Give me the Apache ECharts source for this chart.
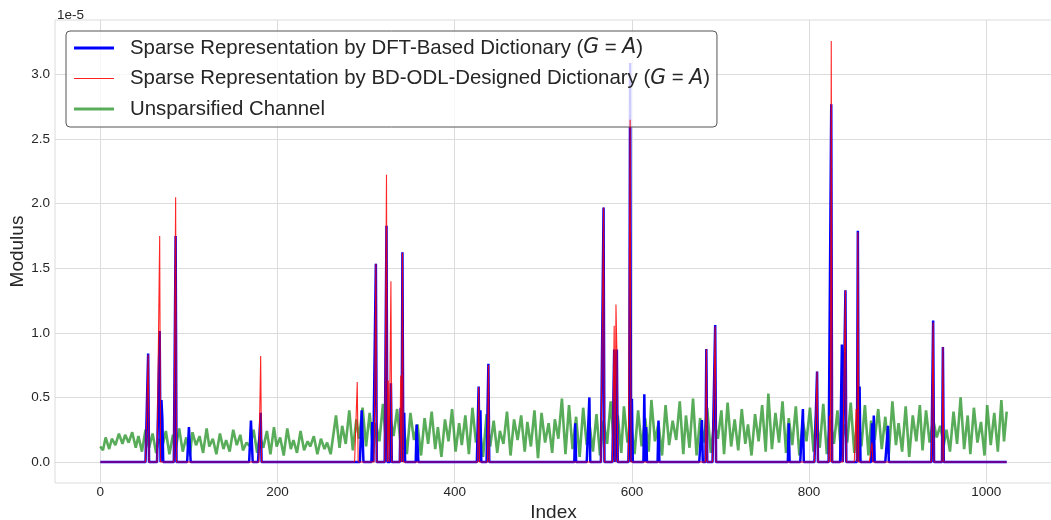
<!DOCTYPE html>
<html><head><meta charset="utf-8">
<script src="https://cdn.jsdelivr.net/npm/echarts@6/dist/echarts.min.js"></script>
<style>html,body{margin:0;padding:0;background:#fff}#chart{width:1051px;height:520px}</style>
</head><body><div id="chart"></div>
<script>
// Number of channel taps (indices 0..1023)
const tapCount = 1024;
const xTicks = [0, 200, 400, 600, 800, 1000];
const yTicks = [0, 0.5, 1.0, 1.5, 2.0, 2.5, 3.0];

// Non-zero taps of the DFT-based sparse representation (units of 1e-5)
const dftIndex   = [54, 67, 69, 70, 85, 100, 101, 170, 171, 181, 295, 296, 307, 311, 323, 328, 339, 341, 343, 357, 358, 427, 429, 438, 536, 552, 568, 580, 583, 597, 598, 600, 614, 616, 630, 679, 684, 694, 777, 793, 809, 825, 837, 841, 855, 857, 871, 873, 889, 940, 951];
const dftModulus = [0.84, 1.015, 0.48, 0.34, 1.75, 0.27, 0.27, 0.32, 0.32, 0.38, 0.40, 0.40, 0.31, 1.535, 1.83, 0.61, 0.42, 1.625, 0.38, 0.29, 0.29, 0.585, 0.40, 0.76, 0.30, 0.50, 1.97, 0.87, 0.87, 0.27, 3.09, 0.49, 0.525, 0.27, 0.32, 0.325, 0.875, 1.06, 0.30, 0.41, 0.70, 2.77, 0.91, 1.33, 1.79, 0.585, 0.30, 0.36, 0.28, 1.095, 0.89];

// Non-zero taps of the BD-ODL-designed sparse representation (units of 1e-5)
const odlIndex   = [54, 67, 85, 181, 290, 311, 323, 325, 328, 339, 341, 427, 438, 568, 580, 582, 583, 598, 684, 694, 809, 823, 825, 841, 853, 855, 871, 940, 951];
const odlModulus = [0.83, 1.75, 2.05, 0.82, 0.62, 1.535, 2.225, 0.63, 1.40, 0.67, 1.62, 0.58, 0.75, 1.97, 1.055, 1.22, 0.87, 2.65, 0.875, 1.05, 0.70, 0.36, 3.26, 1.33, 0.41, 1.78, 0.15, 1.08, 0.89];

// Unsparsified channel: turning points of the modulus trace (units of 1e-5)
const channelIndex = [
  0,3,6,10,13,17,21,25,28,32,36,40,43,47,51,55,59,63,66,70,74,78,82,85,89,93,97,101,104,108,112,116,120,123,127,131,135,139,142,146,150,154,158,161,165,169,173,177,180,184,188,192,196,199,203,207,211,215,218,222,226,230,234,237,241,245,249,253,256,260,
  266,270,273,277,281,285,289,292,296,300,304,308,311,315,319,323,327,331,335,339,342,346,350,354,358,362,366,370,374,378,381,385,389,393,397,401,405,408,412,416,420,424,428,432,436,440,444,448,451,455,459,463,467,471,475,479,482,486,490,494,498,502,506,510,513,517,521,525,529,533,537,541,545,549,552,556,560,564,568,572,576,580,584,588,591,595,599,603,607,611,615,619,622,626,630,634,638,642,646,650,654,658,661,665,669,673,677,681,685,689,693,697,701,704,708,712,716,720,724,728,731,735,739,743,747,751,754,758,762,766,770,774,777,781,785,789,793,797,801,805,808,812,816,820,824,828,832,836,839,843,847,851,855,859,863,867,870,874,878,882,886,890,894,898,901,905,909,913,917,921,925,928,932,936,940,944,948,952,955,959,963,967,971,975,979,982,986,990,994,998,1001,1005,1009,1013,1017,1020,1023
];
const channelModulus = [
  0.12,0.09,0.19,0.10,0.18,0.13,0.22,0.14,0.21,0.15,0.23,0.11,0.20,0.08,0.25,0.11,0.22,0.07,0.18,0.12,0.24,0.06,0.21,0.10,0.26,0.08,0.19,0.05,0.23,0.13,0.20,0.07,0.26,0.12,0.18,0.06,0.22,0.10,0.17,0.08,0.25,0.13,0.21,0.09,0.15,0.12,0.25,0.07,0.20,0.11,0.24,0.06,0.27,0.12,0.19,0.05,0.26,0.10,0.17,0.07,0.24,0.09,0.16,0.12,0.20,0.06,0.18,0.10,0.15,0.06,
  0.36,0.11,0.28,0.14,0.40,0.09,0.33,0.18,0.42,0.12,0.38,0.07,0.30,0.16,0.45,0.10,0.35,0.20,0.41,0.13,0.31,0.06,0.38,0.17,0.29,0.05,0.34,0.14,0.39,0.10,0.27,0.04,0.33,0.16,0.41,0.08,0.30,0.13,0.36,0.06,0.42,0.15,0.28,0.04,0.37,0.12,0.32,0.07,0.24,0.14,0.39,0.05,0.33,0.17,0.36,0.08,0.31,0.12,0.40,0.03,0.38,0.15,0.30,0.07,0.33,0.18,0.49,0.06,0.44,0.10,0.35,0.04,0.42,0.13,0.30,0.08,0.37,0.05,0.32,0.14,0.47,0.11,0.36,0.07,0.43,0.15,0.29,0.06,0.40,0.12,0.34,0.08,0.48,0.16,0.30,0.05,0.44,0.13,0.32,0.17,0.47,0.06,0.36,0.11,0.49,0.05,0.34,0.15,0.42,0.07,0.31,0.18,0.40,0.06,0.46,0.12,0.33,0.09,0.41,0.14,0.29,0.05,0.37,0.16,0.44,0.08,0.53,0.10,0.38,0.15,0.47,0.07,0.34,0.13,0.43,0.05,0.31,0.16,0.42,0.08,0.36,0.11,0.45,0.06,0.33,0.14,0.40,0.09,0.29,0.15,0.46,0.07,0.37,0.12,0.44,0.05,0.32,0.17,0.41,0.10,0.35,0.06,0.47,0.13,0.30,0.08,0.43,0.04,0.36,0.16,0.44,0.09,0.40,0.15,0.33,0.19,0.28,0.13,0.25,0.08,0.39,0.14,0.50,0.10,0.36,0.06,0.42,0.15,0.31,0.05,0.44,0.13,0.38,0.08,0.48,0.16,0.39
];

const seriesNames = [
  'Sparse Representation by DFT-Based Dictionary (G = A)',
  'Sparse Representation by BD-ODL-Designed Dictionary (G = A)',
  'Unsparsified Channel'
];

// Expand a list of non-zero taps into a full tap sequence
function fullTaps(idx, val) {
  const out = new Array(tapCount).fill(0);
  idx.forEach((k, i) => { out[k] = val[i]; });
  return out.map((v, i) => [i, v]);
}

const channelData = channelIndex.map((k, i) => [k, channelModulus[i]]);

const xPad = (tapCount - 1) * 0.05;
const yTop = 3.26, yPad = yTop * 0.05;

const blue = '#0000ff', red = 'rgba(255,0,0,0.85)', green = 'rgba(0,128,0,0.65)';
const labelColor = '#262626';
const gridColor = '#dcdcdc';
const sansFont = 'Liberation Sans, Arial, sans-serif';

// Legend swatch: a flat bar of the series colour
function swatch(name, thickness, color) {
  return {
    name: name,
    icon: 'path://M0,0H40V' + thickness + 'H0Z',
    itemStyle: { color: color, borderWidth: 0, opacity: 1 },
    lineStyle: { width: 0 }
  };
}

const chart = echarts.init(document.getElementById('chart'), null, { renderer: 'canvas' });

chart.setOption({
  animation: false,
  backgroundColor: '#ffffff',
  textStyle: { fontFamily: sansFont },
  grid: { left: 55, top: 20, right: -1, bottom: 37, show: true, borderColor: gridColor, borderWidth: 1, containLabel: false, outerBoundsMode: 'none' },
  graphic: [{
    type: 'text', left: 57, top: 8,
    style: { text: '1e-5', fontSize: 13.5, fill: labelColor, fontFamily: sansFont }
  }],
  legend: {
    data: [
      swatch(seriesNames[0], 3, '#0000ff'),
      swatch(seriesNames[1], 1.2, '#ff2020'),
      swatch(seriesNames[2], 3, 'rgba(0,128,0,0.65)')
    ],
    orient: 'vertical',
    left: 66, top: 31,
    padding: [6, 7, 7, 8],
    itemWidth: 40, itemHeight: 14, itemGap: 8.5,
    symbolKeepAspect: true,
    backgroundColor: 'rgba(255,255,255,0.8)',
    borderColor: '#555555', borderWidth: 1, borderRadius: 4,
    selectedMode: false,
    textStyle: {
      fontSize: 20.4, color: labelColor, lineHeight: 22, padding: [0, 0, 0, 11],
      fontFamily: sansFont,
      rich: {
        i: { fontSize: 20.4, fontStyle: 'italic', fontFamily: 'DejaVu Sans', color: labelColor, lineHeight: 22 }
      }
    },
    formatter: name => name.replace('(G = A)', '({i|G} = {i|A})')
  },
  xAxis: {
    type: 'value', min: -xPad, max: tapCount - 1 + xPad,
    name: 'Index', nameLocation: 'middle', nameGap: 20, nameMoveOverlap: false,
    nameTextStyle: { fontSize: 19, color: labelColor },
    axisLine: { show: false }, axisTick: { show: false, customValues: xTicks },
    axisLabel: { customValues: xTicks, fontSize: 13.5, color: labelColor, margin: 2, formatter: v => String(v) },
    splitLine: { show: true, lineStyle: { color: gridColor, width: 1 } }
  },
  yAxis: {
    type: 'value', min: -yPad, max: yTop + yPad,
    name: 'Modulus', nameLocation: 'middle', nameGap: 28, nameRotate: 90, nameMoveOverlap: false,
    nameTextStyle: { fontSize: 19, color: labelColor },
    axisLine: { show: false }, axisTick: { show: false, customValues: yTicks },
    axisLabel: { customValues: yTicks, fontSize: 13.5, color: labelColor, margin: 5, formatter: v => v.toFixed(1) },
    splitLine: { show: true, lineStyle: { color: gridColor, width: 1 } }
  },
  series: [
    {
      name: seriesNames[0], type: 'line', data: fullTaps(dftIndex, dftModulus),
      symbol: 'none', color: blue, z: 3,
      lineStyle: { color: blue, width: 2.5 }
    },
    {
      name: seriesNames[1], type: 'line', data: fullTaps(odlIndex, odlModulus),
      symbol: 'none', color: red, z: 4,
      lineStyle: { color: red, width: 1.1 }
    },
    {
      name: seriesNames[2], type: 'line', data: channelData,
      symbol: 'none', color: green, z: 2,
      lineStyle: { color: green, width: 2.6 }
    }
  ]
});
</script></body></html>
